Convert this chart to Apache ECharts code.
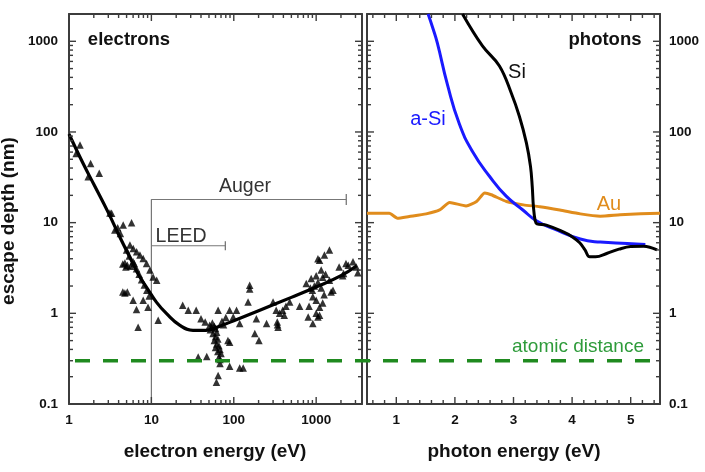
<!DOCTYPE html>
<html><head><meta charset="utf-8">
<script src="https://cdn.jsdelivr.net/npm/echarts@6/dist/echarts.min.js"></script>
<style>html,body{margin:0;padding:0;background:#fff}#c{width:705px;height:472px}</style>
</head><body><div id="c"></div>
<script>
// ---------- data ----------
const yRange = [0.1, 2000];
const electronXRange = [1, 3600];
const photonXRange = [0.5, 5.5];
const atomicDistance = 0.3;

const elecCurveE = [1, 1.5, 2, 3, 4, 5, 6, 7, 8.7, 11.5, 15.3, 22, 32, 46, 62, 100, 200, 500, 1000, 2000, 3100];
const elecCurveD = [95, 44, 26.5, 12.9, 7.4, 4.9, 3.5, 2.65, 1.95, 1.33, 0.99, 0.74, 0.65, 0.65, 0.70, 0.83, 1.07, 1.5, 1.95, 2.6, 3.35];

const elecScatter = [
 [1.22,58],[1.36,72],[1.83,45],[2.33,35],[1.71,32],[3.14,12.8],[3.29,12.7],[3.6,8.3],[4.55,9.4],[5.75,10],[4.2,7.6],[3.9,8.8],
 [5.49,5.66],[6.02,5.2],[6.62,4.77],[7.26,4.39],[7.95,4.03],[8.74,3.55],[9.6,3.0],[10.5,2.52],[11.6,2.32],
 [5.0,5.0],[5.4,4.3],[6.0,3.7],[6.6,3.1],[7.1,2.7],[7.6,2.35],[8.2,2.05],[8.8,1.8],[9.4,1.55],
 [4.5,3.5],[4.77,3.6],[5.1,3.4],[5.6,3.3],[6.2,3.55],[4.9,3.25],
 [4.5,1.72],[4.77,1.68],[5.1,1.72],[6.0,1.39],[6.6,1.1],[7.95,1.39],[9.1,1.17],[6.9,0.70],[12.1,0.84],
 [24,1.23],[28,1.08],[35,1.08],[40,0.87],[45,0.80],[51,0.74],[55,0.78],[58,0.72],[60,0.68],[62,0.62],[56,0.60],[60,0.55],[64,0.52],[58,0.50],[62,0.46],[66,0.44],[60,0.42],[68,0.40],[64,0.38],[70,0.36],[66,0.33],[68,0.31],[37,0.33],[47,0.335],[64.6,1.08],[68,0.28],[89,0.26],[118,0.25],[130,0.25],[64.6,0.206],[61.6,0.174],[89,0.48],[85,0.50],[89,1.08],[108,1.08],[98.5,0.91],[118,0.77],[75,0.75],[80,0.9],[72,0.82],[52,0.66],[54,0.7],
 [156,2.04],[156,1.85],[149,1.33],[188,0.87],[180,0.60],[202,0.50],[250,0.77],[300,1.33],[327,1.08],[337,0.80],[345,0.70],[340,0.75],[392,1.08],[430,1.2],[477,1.33],[630,1.2],[360,1.0],[410,0.95],
 [758,2.13],[800,0.91],[870,2.42],[900,1.8],[910,1.52],[1000,1.39],[1050,0.91],[1100,1.17],[1150,3.0],[1100,3.86],[1450,5.0],[1260,4.4],[1050,4.0],[1450,2.32],[1600,1.8],[1900,3.25],[2100,2.6],[2450,3.4],[3070,3.25],[3200,2.8],[2300,3.55],[2800,3.7],[2150,2.75],[1520,1.72],[910,0.77],[1100,0.95],[1200,1.3],[950,2.0],[1050,2.2],[1200,2.5],[1300,2.7],[850,1.9],[1000,2.6],[1150,1.9],[1250,1.6],[820,1.2],[1000,1.0]
];

const augerRangeE = [10, 2320];
const augerLevel = 18;
const leedRangeE = [10, 79];
const leedLevel = 5.56;

const aSiE = [1.543, 1.62, 1.70, 1.874, 2.075, 2.30, 2.59, 2.875, 3.16, 3.39, 3.68, 4.14, 4.48, 4.94, 5.25];
const aSiD = [2000, 1420, 960, 330, 123, 61, 32.5, 19.6, 13.8, 10.5, 8.6, 6.6, 6.1, 5.9, 5.75];

const siE = [2.13, 2.47, 2.76, 2.96, 3.10, 3.22, 3.29, 3.32, 3.34, 3.37, 3.40, 3.56, 3.85, 4.0, 4.13, 4.22, 4.30, 4.40, 4.6, 4.8, 5.0, 5.22, 5.45];
const siD = [2000, 889, 534, 271, 149, 75.7, 41.7, 25, 15, 10.5, 9.7, 9.4, 7.9, 7.0, 6.0, 5.0, 4.2, 4.2, 4.6, 5.1, 5.45, 5.5, 5.0];

const auE = [0.5, 0.88, 1.02, 1.22, 1.51, 1.74, 1.91, 2.19, 2.37, 2.51, 2.62, 2.88, 3.17, 3.45, 3.79, 4.14, 4.48, 4.82, 5.17, 5.5];
const auD = [12.7, 12.7, 11.2, 11.7, 12.5, 13.8, 16.7, 15.3, 17.1, 21.2, 20.3, 17.1, 15.7, 15.0, 13.8, 12.5, 11.8, 12.2, 12.5, 12.7];

// ---------- styles / layout ----------
const FONT = 'Liberation Sans, Arial, sans-serif';
const FRAME = '#3c3c3c';
const GREEN = '#1f8a1f';
const zip = (a, b) => a.map((v, i) => [v, b[i]]);

function logMajors(min, max) {
  const out = [];
  for (let k = -3; k <= 5; k++) { const v = +Math.pow(10, k).toPrecision(6); if (v > min && v < max) out.push(v); }
  return out;
}
function logMinors(min, max) {
  const out = [];
  for (let k = -3; k <= 5; k++) {
    for (let m = 2; m <= 9; m++) {
      const v = +(m * Math.pow(10, k)).toPrecision(6);
      if (v > min && v < max) out.push(v);
    }
  }
  return out;
}
function linTicks(min, max, step, major, wantMajor) {
  const out = [];
  const n0 = Math.ceil(min / step - 1e-9), n1 = Math.floor(max / step + 1e-9);
  for (let n = n0; n <= n1; n++) {
    const v = +(n * step).toPrecision(6);
    const isMajor = Math.abs(v / major - Math.round(v / major)) < 1e-6;
    if (v > min && v < max && isMajor === wantMajor) out.push(v);
  }
  return out;
}
const fmt = v => String(+(+v).toPrecision(6));

function axisCommon(extra) {
  return Object.assign({
    axisLine: { show: true, onZero: false, lineStyle: { color: FRAME, width: 2 } },
    axisTick: { show: false },
    splitLine: { show: false },
    axisLabel: { show: false }
  }, extra);
}
const labelStyle = (margin) => ({
  show: true, margin, color: '#111', fontFamily: FONT, fontWeight: 'bold', fontSize: 13.5,
  formatter: fmt, showMinLabel: true, showMaxLabel: false
});

// tick marks drawn as thin rect symbols sitting on the frame, pushed inward by half their length
function tickSeries(xIdx, yIdx, xRange, xVals, yVals, len) {
  const w = 1.4;
  const data = [];
  xVals.forEach(v => {
    data.push({ value: [v, yRange[0]], symbolSize: [w, len], symbolOffset: [0, -len / 2] });
    data.push({ value: [v, yRange[1]], symbolSize: [w, len], symbolOffset: [0, len / 2] });
  });
  yVals.forEach(v => {
    data.push({ value: [xRange[0], v], symbolSize: [len, w], symbolOffset: [len / 2, 0] });
    data.push({ value: [xRange[1], v], symbolSize: [len, w], symbolOffset: [-len / 2, 0] });
  });
  return { type: 'scatter', xAxisIndex: xIdx, yAxisIndex: yIdx, symbol: 'rect', clip: false, silent: true, z: 8,
    itemStyle: { color: FRAME, opacity: 1 }, emphasis: { disabled: true }, data };
}
const MAJOR = 7, MINOR = 4;

const chart = echarts.init(document.getElementById('c'), null, { renderer: 'canvas' });
const yLog = { type: 'log', logBase: 10, min: yRange[0], max: yRange[1], splitNumber: 5 };

chart.setOption({
  animation: false,
  backgroundColor: '#fff',
  grid: [
    { left: 69, top: 14, width: 293, height: 390 },
    { left: 367, top: 14, width: 293, height: 390 }
  ],
  xAxis: [
    axisCommon({ gridIndex: 0, type: 'log', logBase: 10, min: electronXRange[0], max: electronXRange[1], position: 'bottom', axisLabel: labelStyle(9) }),
    axisCommon({ gridIndex: 0, type: 'log', logBase: 10, min: electronXRange[0], max: electronXRange[1], position: 'top' }),
    axisCommon({ gridIndex: 1, type: 'value', min: photonXRange[0], max: photonXRange[1], splitNumber: 5, position: 'bottom',
      axisLabel: Object.assign(labelStyle(9), { showMinLabel: false }) }),
    axisCommon({ gridIndex: 1, type: 'value', min: photonXRange[0], max: photonXRange[1], splitNumber: 5, position: 'top' })
  ],
  yAxis: [
    axisCommon(Object.assign({ gridIndex: 0, position: 'left', axisLabel: labelStyle(11) }, yLog)),
    axisCommon(Object.assign({ gridIndex: 0, position: 'right' }, yLog)),
    axisCommon(Object.assign({ gridIndex: 1, position: 'left' }, yLog)),
    axisCommon(Object.assign({ gridIndex: 1, position: 'right', axisLabel: labelStyle(9) }, yLog))
  ],
  series: [
    tickSeries(0, 0, electronXRange, logMajors(electronXRange[0], electronXRange[1]), logMajors(yRange[0], yRange[1]), MAJOR),
    tickSeries(0, 0, electronXRange, logMinors(electronXRange[0], electronXRange[1]), logMinors(yRange[0], yRange[1]), MINOR),
    tickSeries(2, 2, photonXRange, linTicks(photonXRange[0], photonXRange[1], 1, 1, true), logMajors(yRange[0], yRange[1]), MAJOR),
    tickSeries(2, 2, photonXRange, linTicks(photonXRange[0], photonXRange[1], 0.2, 1, false), logMinors(yRange[0], yRange[1]), MINOR),
    {
      type: 'line', xAxisIndex: 0, yAxisIndex: 0, showSymbol: true, silent: true, z: 3,
      lineStyle: { color: '#777', width: 1.2 },
      itemStyle: { color: '#777' },
      data: [
        { value: [augerRangeE[0], yRange[0]], symbol: 'none' },
        { value: [augerRangeE[0], augerLevel], symbol: 'none' },
        { value: [augerRangeE[1], augerLevel], symbol: 'rect', symbolSize: [1.3, 11] }
      ]
    },
    {
      type: 'line', xAxisIndex: 0, yAxisIndex: 0, showSymbol: true, silent: true, z: 3,
      lineStyle: { color: '#777', width: 1.2 },
      itemStyle: { color: '#777' },
      data: [
        { value: [leedRangeE[0], leedLevel], symbol: 'none' },
        { value: [leedRangeE[1], leedLevel], symbol: 'rect', symbolSize: [1.3, 9] }
      ]
    },
    {
      type: 'scatter', xAxisIndex: 0, yAxisIndex: 0, symbol: 'triangle', symbolSize: 7.5, silent: true, z: 4,
      itemStyle: { color: '#000' },
      data: elecScatter
    },
    {
      type: 'line', xAxisIndex: 0, yAxisIndex: 0, smooth: 0.45, showSymbol: false, silent: true, z: 5,
      lineStyle: { color: '#000', width: 3.2 },
      data: zip(elecCurveE, elecCurveD)
    },
    {
      type: 'line', xAxisIndex: 2, yAxisIndex: 2, smooth: 0.2, showSymbol: false, silent: true, z: 4,
      lineStyle: { color: '#e08c1c', width: 3 },
      data: zip(auE, auD)
    },
    {
      type: 'line', xAxisIndex: 2, yAxisIndex: 2, smooth: 0.5, showSymbol: false, silent: true, z: 4,
      lineStyle: { color: '#1a1aff', width: 3 },
      data: zip(aSiE, aSiD)
    },
    {
      type: 'line', xAxisIndex: 2, yAxisIndex: 2, smooth: 0.4, showSymbol: false, silent: true, z: 5,
      lineStyle: { color: '#000', width: 3 },
      data: zip(siE, siD)
    }
  ]
});

// ---------- texts and the atomic-distance line (placed through the axes' own scales) ----------
const gfx = [
  { id: 't_el', type: 'text', x: 129, y: 40, style: { text: 'electrons', font: 'bold 18.5px ' + FONT, fill: '#111', textAlign: 'center', textVerticalAlign: 'middle' } },
  { id: 't_ph', type: 'text', x: 605, y: 40, style: { text: 'photons', font: 'bold 18.5px ' + FONT, fill: '#111', textAlign: 'center', textVerticalAlign: 'middle' } },
  { id: 't_au', type: 'text', x: 245, y: 187, style: { text: 'Auger', font: '19.5px ' + FONT, fill: '#333', textAlign: 'center', textVerticalAlign: 'middle' } },
  { id: 't_le', type: 'text', x: 181, y: 237, style: { text: 'LEED', font: '19.5px ' + FONT, fill: '#333', textAlign: 'center', textVerticalAlign: 'middle' } },
  { id: 't_si', type: 'text', x: 517, y: 72, style: { text: 'Si', font: '20px ' + FONT, fill: '#111', textAlign: 'center', textVerticalAlign: 'middle' } },
  { id: 't_asi', type: 'text', x: 428, y: 119, style: { text: 'a-Si', font: '20px ' + FONT, fill: '#1a1aff', textAlign: 'center', textVerticalAlign: 'middle' } },
  { id: 't_auel', type: 'text', x: 609, y: 204, style: { text: 'Au', font: '20px ' + FONT, fill: '#e08c1c', textAlign: 'center', textVerticalAlign: 'middle' } },
  { id: 't_ad', type: 'text', x: 578, y: 347, style: { text: 'atomic distance', font: '19px ' + FONT, fill: '#2e9b3a', textAlign: 'center', textVerticalAlign: 'middle' } },
  { id: 't_ye', type: 'text', x: 9, y: 221, rotation: Math.PI / 2, style: { text: 'escape depth (nm)', font: 'bold 19px ' + FONT, fill: '#111', textAlign: 'center', textVerticalAlign: 'middle' } },
  { id: 't_xe', type: 'text', x: 215, y: 452, style: { text: 'electron energy (eV)', font: 'bold 19px ' + FONT, fill: '#111', textAlign: 'center', textVerticalAlign: 'middle' } },
  { id: 't_xp', type: 'text', x: 514, y: 452, style: { text: 'photon energy (eV)', font: 'bold 19px ' + FONT, fill: '#111', textAlign: 'center', textVerticalAlign: 'middle' } }
];
const pA = chart.convertToPixel({ xAxisIndex: 0, yAxisIndex: 0 }, [electronXRange[0], atomicDistance]);
const pB = chart.convertToPixel({ xAxisIndex: 2, yAxisIndex: 2 }, [photonXRange[1], atomicDistance]);
gfx.push({ id: 'atomic', type: 'line', z: 60, silent: true, shape: { x1: pA[0], y1: pA[1], x2: pB[0], y2: pB[1] },
  style: { stroke: GREEN, lineWidth: 3.5, lineDash: [15, 13], lineDashOffset: 22 } });
chart.setOption({ graphic: gfx });
</script>
</body></html>
